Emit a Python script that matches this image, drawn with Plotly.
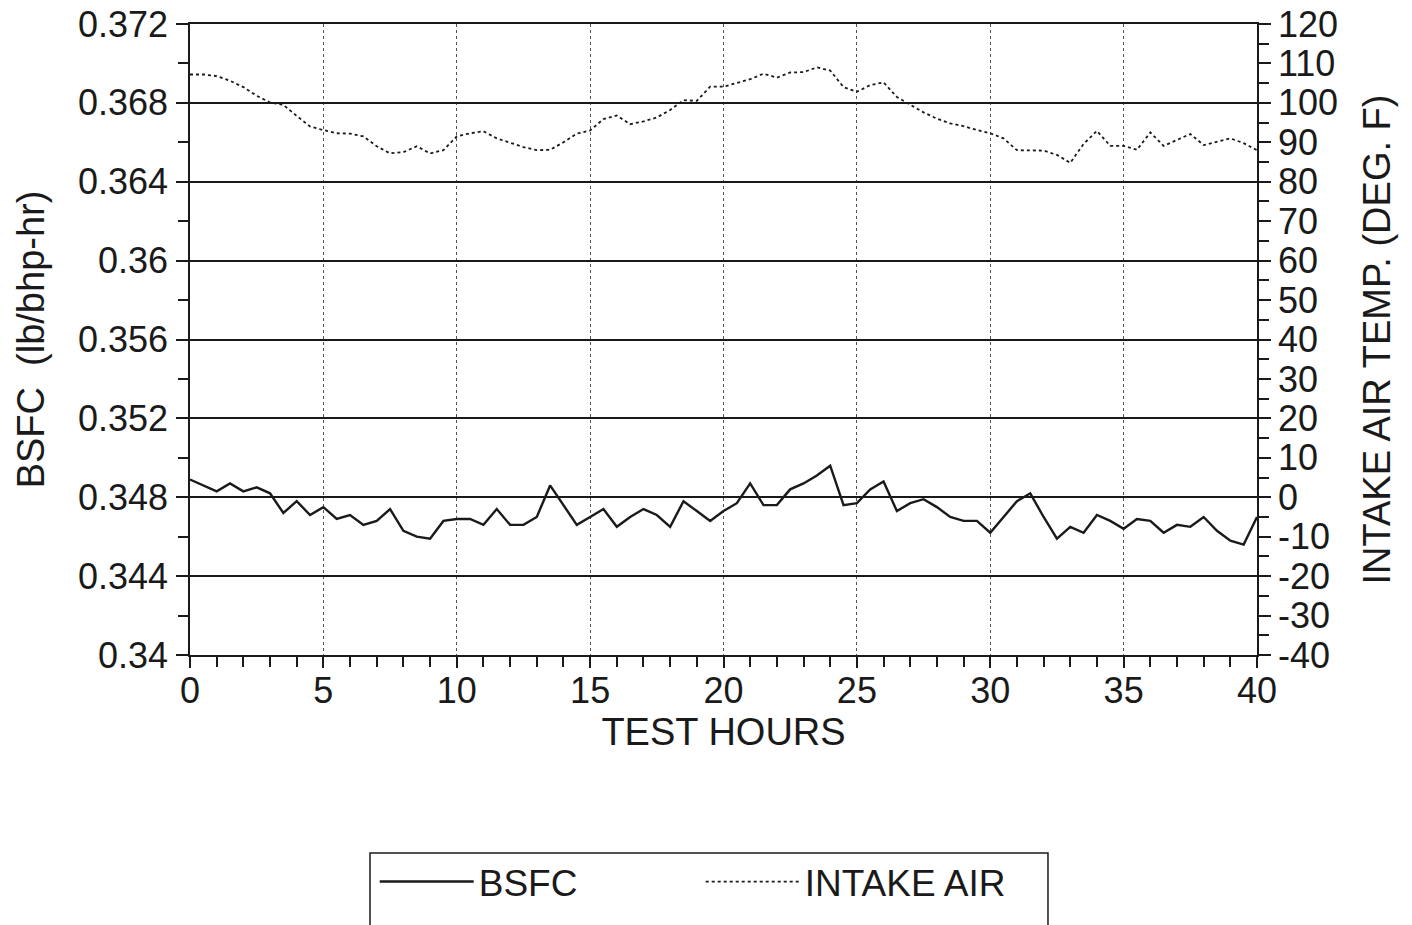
import plotly.graph_objects as go

hours = [0, 0.5, 1, 1.5, 2, 2.5, 3, 3.5, 4, 4.5, 5, 5.5, 6, 6.5, 7, 7.5, 8, 8.5, 9, 9.5,
         10, 10.5, 11, 11.5, 12, 12.5, 13, 13.5, 14, 14.5, 15, 15.5, 16, 16.5, 17, 17.5, 18, 18.5, 19, 19.5,
         20, 20.5, 21, 21.5, 22, 22.5, 23, 23.5, 24, 24.5, 25, 25.5, 26, 26.5, 27, 27.5, 28, 28.5, 29, 29.5,
         30, 30.5, 31, 31.5, 32, 32.5, 33, 33.5, 34, 34.5, 35, 35.5, 36, 36.5, 37, 37.5, 38, 38.5, 39, 39.5, 40]

bsfc = [0.3489, 0.3486, 0.3483, 0.3487, 0.3483, 0.3485, 0.3482, 0.3472, 0.3478, 0.3471,
        0.3475, 0.3469, 0.3471, 0.3466, 0.3468, 0.3474, 0.3463, 0.3460, 0.3459, 0.3468,
        0.3469, 0.3469, 0.3466, 0.3474, 0.3466, 0.3466, 0.3470, 0.3486, 0.3476, 0.3466,
        0.3470, 0.3474, 0.3465, 0.3470, 0.3474, 0.3471, 0.3465, 0.3478, 0.3473, 0.3468,
        0.3473, 0.3477, 0.3487, 0.3476, 0.3476, 0.3484, 0.3487, 0.3491, 0.3496, 0.3476,
        0.3477, 0.3484, 0.3488, 0.3473, 0.3477, 0.3479, 0.3475, 0.3470, 0.3468, 0.3468,
        0.3462, 0.3470, 0.3478, 0.3482, 0.3470, 0.3459, 0.3465, 0.3462, 0.3471, 0.3468,
        0.3464, 0.3469, 0.3468, 0.3462, 0.3466, 0.3465, 0.3470, 0.3463, 0.3458, 0.3456,
        0.3470]

intake_air = [107.2, 107.2, 106.8, 105.6, 104.0, 101.8, 100.1, 99.5, 96.7, 94.0,
              93.1, 92.3, 92.2, 91.5, 89.0, 87.2, 87.5, 89.0, 87.2, 88.0,
              91.5, 92.3, 92.8, 91.0, 89.9, 88.8, 88.0, 88.1, 90.0, 92.2,
              93.0, 95.9, 96.8, 94.6, 95.3, 96.3, 98.2, 100.7, 100.5, 104.1,
              104.1, 105.0, 106.0, 107.4, 106.4, 107.7, 107.8, 109.0, 108.2, 104.0,
              102.8, 104.5, 105.2, 101.5, 99.5, 97.6, 96.0, 94.8, 94.1, 93.1,
              92.3, 91.0, 88.0, 87.9, 87.9, 86.8, 84.8, 89.6, 92.9, 89.1,
              89.1, 88.1, 92.5, 89.1, 90.6, 92.1, 89.3, 90.2, 91.0, 89.8,
              88.0]

bsfc_tickvals = [0.34, 0.344, 0.348, 0.352, 0.356, 0.36, 0.364, 0.368, 0.372]
bsfc_ticktext = ["0.34", "0.344", "0.348", "0.352", "0.356", "0.36", "0.364", "0.368", "0.372"]
bsfc_minor = [0.342, 0.346, 0.35, 0.354, 0.358, 0.362, 0.366, 0.37]
temp_tickvals = [-40, -30, -20, -10, 0, 10, 20, 30, 40, 50, 60, 70, 80, 90, 100, 110, 120]
temp_ticktext = ["-40", "-30", "-20", "-10", "0", "10", "20", "30", "40", "50", "60",
                 "70", "80", "90", "100", "110", "120"]
hour_tickvals = [0, 5, 10, 15, 20, 25, 30, 35, 40]

INK = "#1a1a1a"
FONT = "Liberation Sans, Arial, Helvetica, sans-serif"

fig = go.Figure()
fig.add_trace(go.Scatter(x=hours, y=bsfc, mode="lines", name="BSFC",
                         line=dict(color=INK, width=2.4), yaxis="y"))
fig.add_trace(go.Scatter(x=hours, y=intake_air, mode="lines", name="INTAKE AIR",
                         line=dict(color=INK, width=1.8, dash="dot"), yaxis="y2"))

fig.update_layout(
    width=1412, height=925,
    margin=dict(l=190, r=155, t=24, b=270, autoexpand=False),
    paper_bgcolor="white", plot_bgcolor="white",
    font=dict(family=FONT, size=36, color=INK),
    showlegend=True,
    legend=dict(orientation="h", xref="paper", yref="container",
                x=0.1731, y=0.08, xanchor="left", yanchor="top",
                font=dict(size=37, color=INK), itemwidth=94,
                entrywidth=217, entrywidthmode="pixels",
                bgcolor="rgba(0,0,0,0)", borderwidth=0),
    xaxis=dict(range=[0, 40], tickvals=hour_tickvals, ticks="outside", ticklen=11,
               tickwidth=1.5, tickcolor=INK, showline=True, linecolor=INK, linewidth=1.5,
               mirror=True, showgrid=True, gridcolor="#555555", griddash="dot", gridwidth=1,
               zeroline=False, automargin=False, ticklabelstandoff=-8,
               title=dict(text="TEST HOURS", standoff=0, font=dict(size=38)),
               minor=dict(dtick=1, ticks="outside", ticklen=10, tickcolor=INK, tickwidth=1.5,
                          showgrid=False)),
    yaxis=dict(range=[0.34, 0.372], tickvals=bsfc_tickvals, ticktext=bsfc_ticktext,
               ticks="outside", ticklen=12, tickwidth=1.5, tickcolor=INK, ticklabelstandoff=1,
               showline=True, linecolor=INK, linewidth=1.5, showgrid=True, gridcolor=INK,
               gridwidth=1.5, zeroline=False, automargin=False,
               title=dict(text="BSFC  (lb/bhp-hr)", standoff=22, font=dict(size=38)),
               minor=dict(tickvals=bsfc_minor, ticks="outside", ticklen=10, tickcolor=INK,
                          tickwidth=1.5, showgrid=False)),
    yaxis2=dict(range=[-40, 120], tickvals=temp_tickvals, ticktext=temp_ticktext,
                overlaying="y", side="right",
                ticks="outside", ticklen=12, tickwidth=1.5, tickcolor=INK,
                showline=True, linecolor=INK, linewidth=1.5, showgrid=False, zeroline=False,
                automargin=False,
                title=dict(text="INTAKE AIR TEMP. (DEG. F)", standoff=26, font=dict(size=38)),
                minor=dict(dtick=5, ticks="outside", ticklen=10, tickcolor=INK, tickwidth=1.5,
                           showgrid=False)),
)

fig.add_shape(type="rect", xref="paper", yref="paper", x0=0.1687, x1=0.8041,
              y0=-0.3138, y1=-0.45, line=dict(color=INK, width=1.5))

fig.write_html("out.html")
